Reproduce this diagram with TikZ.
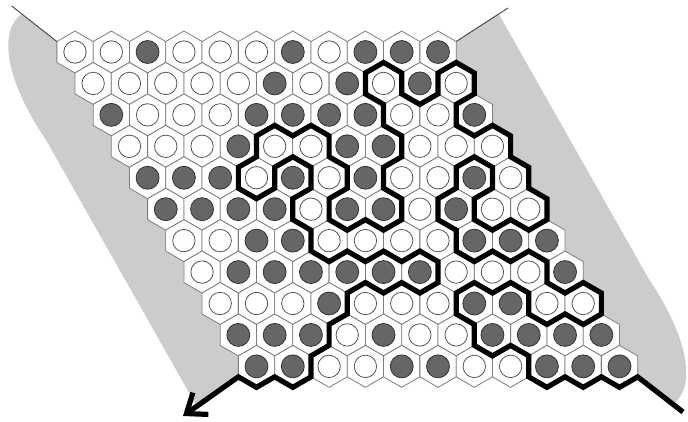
\documentclass[tikz,border=0pt]{standalone}
\usetikzlibrary{arrows.meta}
\definecolor{bandgray}{RGB}{204,204,204}
\definecolor{hexline}{RGB}{125,125,125}
\definecolor{stonefill}{RGB}{102,102,102}
\definecolor{stoneline}{RGB}{50,50,50}
\definecolor{ringline}{RGB}{85,85,85}
\definecolor{guide}{RGB}{70,70,70}
\newcommand\hexX[2]{75+36.3*(#2)+18.15*(#1)}
\newcommand\hexY[1]{52+31.4367*(#1)}
\tikzset{
  band/.style={fill=bandgray, draw=none},
  hexcell/.style={fill=white, draw=hexline, line width=0.6pt},
  darkstone/.style={fill=stonefill, draw=stoneline, line width=0.6pt},
  lightstone/.style={fill=white, draw=ringline, line width=0.6pt},
  guideline/.style={draw=guide, line width=0.7pt},
  winpath/.style={draw=black, line width=3.9pt, line join=miter, miter limit=4},
}
\begin{document}
\begin{tikzpicture}[x=0.75pt,y=-0.75pt]
\useasboundingbox (0,0) rectangle (688,421);
% grey bands
\fill[band] (22,14.2) -- ({\hexX{0}{0}-18.15},{\hexY{0}-10.479}) -- (347.25,209.25)
  -- ({\hexX{10}{0}-18.15},{\hexY{10}+10.479}) -- (196,405) -- (46,140)
  .. controls (2,75) and (0,28) .. (22,14.2) -- cycle;
\fill[band] (672.5,404.3) -- ({\hexX{10}{10}+18.15},{\hexY{10}+10.479}) -- (347.25,209.25)
  -- ({\hexX{0}{10}+18.15},{\hexY{0}-10.479}) -- (498.5,13.5) -- (648.5,278.5)
  .. controls (692.5,343.5) and (694.5,390.5) .. (672.5,404.3) -- cycle;
% board
\foreach \r/\row in {
  0/{0,0,1,0,0,0,1,0,1,1,1},
  1/{0,0,0,0,0,1,0,1,0,1,0},
  2/{1,0,0,0,1,1,1,1,0,0,1},
  3/{0,0,0,1,0,0,1,1,0,0,0},
  4/{1,1,1,0,1,0,1,0,0,1,0},
  5/{1,1,1,1,0,1,1,0,1,0,0},
  6/{0,0,1,1,0,0,0,0,1,1,1},
  7/{0,1,1,1,1,1,1,0,0,0,1},
  8/{0,0,0,1,0,0,0,1,1,0,0},
  9/{1,1,1,0,1,0,0,1,1,1,1},
  10/{1,1,0,0,1,1,0,0,1,1,1}} {
  \foreach \v [count=\cc from 0] in \row {
    \pgfmathsetmacro\cx{\hexX{\r}{\cc}}
    \pgfmathsetmacro\cy{\hexY{\r}}
    \draw[hexcell] (\cx,\cy-20.958) -- ++(18.15,10.479) -- ++(0,20.958)
      -- ++(-18.15,10.479) -- ++(-18.15,-10.479) -- ++(0,-20.958) -- cycle;
    \ifnum\v=1
      \draw[darkstone] (\cx,\cy) circle[radius=8.6pt];
    \else
      \draw[lightstone] (\cx,\cy) circle[radius=8.4pt];
    \fi
  }
}
% thin guide lines
\draw[guideline] (11.7,6) -- ({\hexX{0}{0}-18.15},{\hexY{0}-10.479});
\draw[guideline] ({\hexX{0}{10}+18.15},{\hexY{0}-10.479}) -- (508,8);
% boundary path
\draw[winpath,-{Straight Barb[length=13pt,width=20pt]}] (683,412)
  \foreach \r/\cc/\s in {
    11/10/-1, 10/10/1, 11/9/-1, 10/9/1, 11/8/-1, 10/8/1, 11/7/-1, 9/8/1,
    10/7/-1, 9/7/1, 10/6/-1, 8/7/1, 9/6/-1, 7/7/1, 8/7/-1, 7/8/1,
    8/8/-1, 7/9/1, 9/8/-1, 8/9/1, 9/9/-1, 8/10/1, 9/10/-1, 7/11/1,
    8/10/-1, 7/10/1, 8/9/-1, 6/10/1, 7/9/-1, 6/9/1, 7/8/-1, 6/8/1,
    7/7/-1, 5/8/1, 6/7/-1, 4/8/1, 5/8/-1, 3/9/1, 4/9/-1, 3/10/1,
    5/9/-1, 4/9/1, 6/8/-1, 5/9/1, 6/9/-1, 5/10/1, 6/10/-1, 4/11/1,
    5/10/-1, 3/11/1, 4/10/-1, 2/11/1, 3/10/-1, 2/10/1, 3/9/-1, 1/10/1,
    2/10/-1, 0/11/1, 1/10/-1, 0/10/1, 2/9/-1, 1/9/1, 2/8/-1, 0/9/1,
    1/8/-1, 0/8/1, 2/7/-1, 1/8/1, 3/7/-1, 2/8/1, 4/7/-1, 3/7/1,
    5/6/-1, 4/7/1, 6/6/-1, 5/6/1, 6/5/-1, 5/5/1, 6/4/-1, 4/5/1,
    5/5/-1, 3/6/1, 4/5/-1, 2/6/1, 3/5/-1, 2/5/1, 3/4/-1, 2/4/1,
    4/3/-1, 3/3/1, 5/2/-1, 4/3/1, 5/3/-1, 3/4/1, 4/4/-1, 3/5/1,
    5/4/-1, 4/4/1, 6/3/-1, 5/4/1, 7/3/-1, 6/4/1, 7/4/-1, 6/5/1,
    7/5/-1, 6/6/1, 7/6/-1, 6/7/1, 8/6/-1, 7/6/1, 8/5/-1, 7/5/1,
    8/4/-1, 7/4/1, 9/3/-1, 8/3/1, 10/2/-1, 9/2/1, 11/1/-1, 10/1/1,
    11/0/-1, 10/0/1, 11/-1/-1} {
    -- ({\hexX{\r}{\cc}},{\hexY{\r}+20.958*(\s)})
  } -- (183,416);
\end{tikzpicture}
\end{document}
